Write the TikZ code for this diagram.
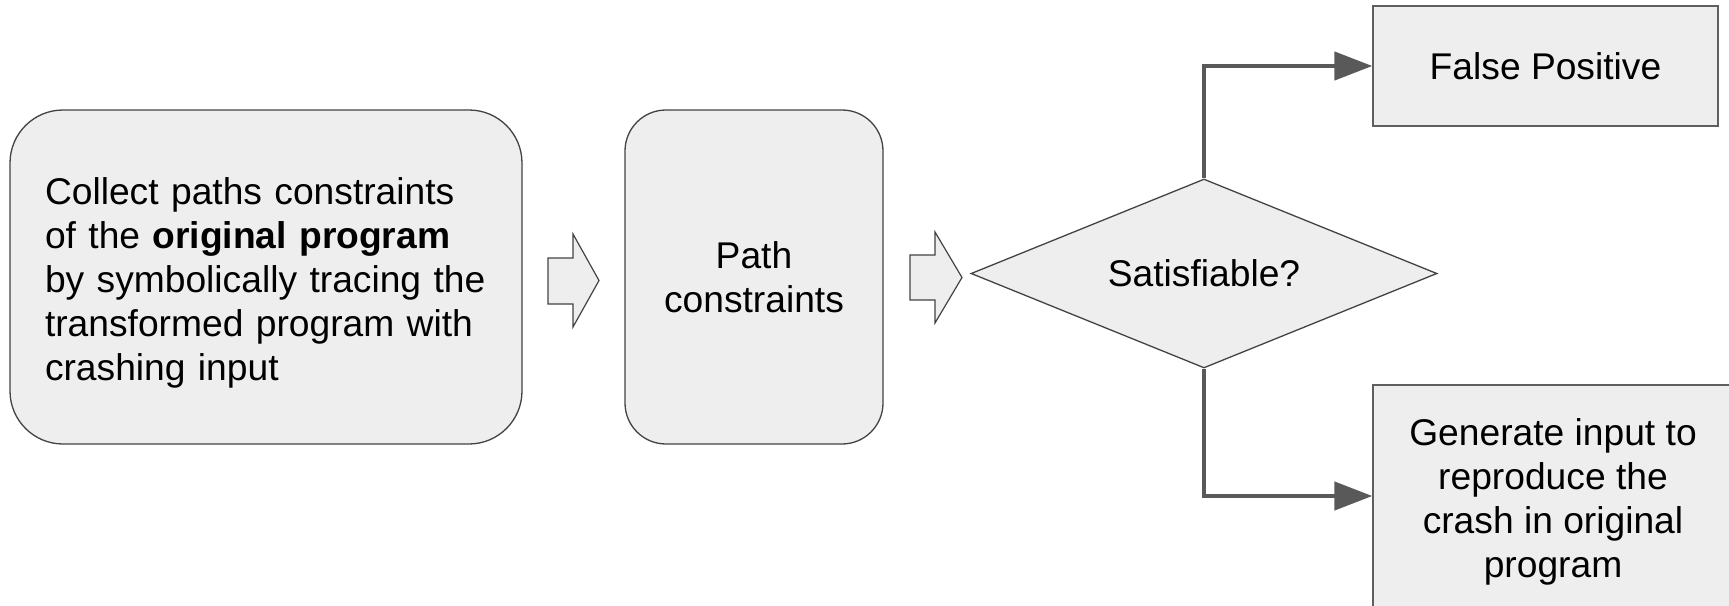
\documentclass[tikz,border=0pt]{standalone}
\usepackage{fontspec}
\setmainfont{Liberation Sans}
\usetikzlibrary{shapes.geometric,arrows.meta}
\definecolor{boxfill}{HTML}{EEEEEE}
\definecolor{boxline}{HTML}{434343}
\definecolor{rectline}{HTML}{5F5F5F}
\definecolor{connline}{HTML}{595959}
\newcommand{\topstrut}{\rule{0pt}{19pt}}
\begin{document}
\begin{tikzpicture}[x=0.5pt,y=-0.5pt,
  every node/.style={font=\fontsize{18.6}{22}\selectfont, text=black},
  roundbox/.style={draw=boxline, fill=boxfill, line width=0.65pt, inner sep=0pt},
  rectbox/.style={draw=rectline, fill=boxfill, line width=0.65pt, inner sep=0pt, align=center},
  blockarrow/.style={draw=boxline, fill=boxfill, line width=0.6pt, line join=miter},
  decision/.style={diamond, aspect=2.47, draw=boxline, fill=boxfill, line width=0.65pt, inner sep=0pt, minimum width=233pt, minimum height=94.5pt},
  conn/.style={draw=connline, line width=2.2pt, -{Triangle[length=19pt,width=14pt]}}]
\useasboundingbox (0,0) rectangle (1729,605);
% collect box
\node[roundbox, rounded corners=26.5pt, minimum width=256pt, minimum height=167pt,
      text width=221pt, align=left] (collect) at (266,277)
  {\topstrut Collect paths constraints\\of the \textbf{original program}\\by symbolically tracing the\\transformed program with\\crashing input};
% path constraints box
\node[roundbox, rounded corners=20.5pt, minimum width=129pt, minimum height=167pt, align=center] (path) at (754,277)
  {Path\\constraints};
% block arrows
\draw[blockarrow] (548,258) -- (573,258) -- (573,234) -- (599,280.5) -- (573,327) -- (573,304) -- (548,304) -- cycle;
\draw[blockarrow] (910,255) -- (935,255) -- (935,232) -- (962,277.5) -- (935,323) -- (935,300) -- (910,300) -- cycle;
% decision
\node[decision] (sat) at (1204,273.5) {Satisfiable?};
% outcome boxes
\node[rectbox, minimum width=172.5pt, minimum height=60pt] (fp) at (1545.5,66) {False Positive};
\node[rectbox, minimum width=180pt, minimum height=111pt] (gen) at (1553,496)
  {\topstrut Generate input to\\reproduce the\\crash in original\\program};
% connectors
\draw[conn] (sat.north) |- (fp.west);
\draw[conn] (sat.south) |- (gen.west);
\end{tikzpicture}
\end{document}
